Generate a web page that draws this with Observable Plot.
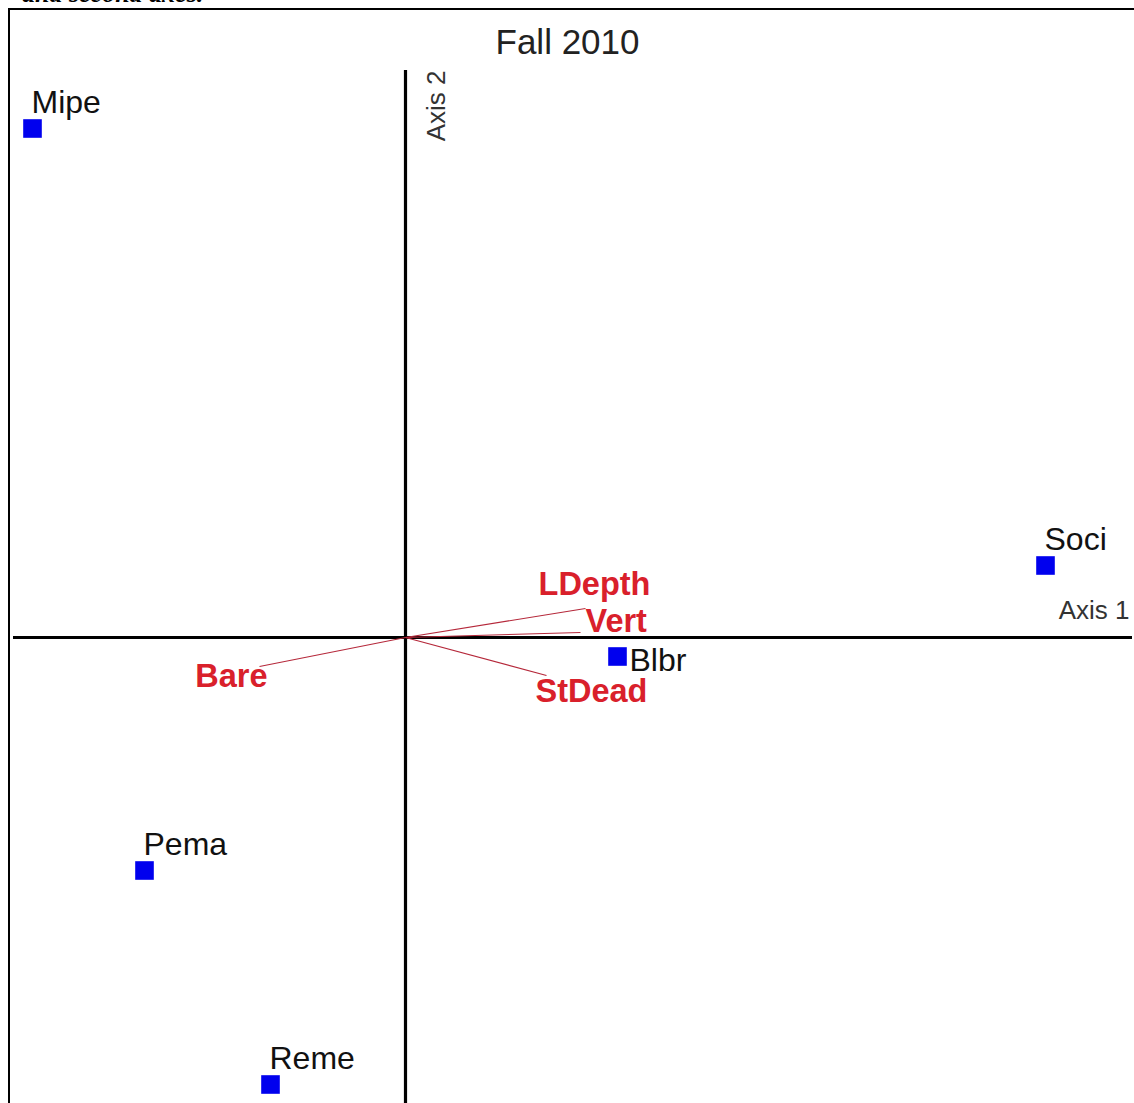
<!DOCTYPE html>
<html>
<head>
<meta charset="utf-8">
<script src="https://cdn.jsdelivr.net/npm/d3@7"></script>
<script src="https://cdn.jsdelivr.net/npm/@observablehq/plot@0.6"></script>
<style>
  html, body { margin: 0; padding: 0; background: #fff; overflow: hidden; width: 1134px; height: 1103px; }
  #caption { position: absolute; left: 22px; top: -19px; font: italic bold 26px "Liberation Serif", "Times New Roman", serif; line-height: 26px; color: #000; white-space: nowrap; }
  #border { position: absolute; left: 8px; top: 8px; width: 2000px; height: 2000px; border: 2px solid #000; }
  #chart { position: absolute; left: 0; top: 0; }
</style>
</head>
<body>
<div id="caption">and second axes.</div>
<div id="border"></div>
<div id="chart"></div>
<script>
// Species scores (axis 1, axis 2)
const speciesNames = ["Mipe", "Soci", "Blbr", "Pema", "Reme"];
const speciesAxis1 = [-3.73, 6.40, 2.12, -2.61, -1.35];
const speciesAxis2 = [5.09, 0.72, -0.19, -2.33, -4.47];

// Environmental vectors (biplot arrows)
const vectorNames = ["LDepth", "Vert", "StDead", "Bare"];
const vectorAxis1 = [1.80, 1.75, 1.41, -1.46];
const vectorAxis2 = [0.29, 0.05, -0.38, -0.29];

// Extent of drawn axes lines
const axis1Extent = [-3.92, 7.27];
const axis2Extent = [-4.66, 5.67];
const title = "Fall 2010";
const axisLabels = ["Axis 1", "Axis 2"];

const species = speciesNames.map((name, i) => ({name, x: speciesAxis1[i], y: speciesAxis2[i]}));
const vectors = vectorNames.map((name, i) => ({name, x: vectorAxis1[i], y: vectorAxis2[i]}));

const RED = "#d9202b";
const labelFont = "Liberation Sans, Arial, Helvetica, sans-serif";

// label placement relative to arrow tips (styling)
const vecLabelStyle = {
  LDepth: {textAnchor: "middle", dx: 9, dy: -24},
  Vert: {textAnchor: "start", dx: 5, dy: -11},
  StDead: {textAnchor: "start", dx: -11, dy: 16},
  Bare: {textAnchor: "end", dx: 8, dy: 10}
};

const plot = Plot.plot({
  width: 1134,
  height: 1103,
  margin: 0,
  x: {domain: [-4.05, 7.29], axis: null},
  y: {domain: [-4.66, 6.37], axis: null},
  style: {background: "transparent", fontFamily: labelFont, overflow: "visible"},
  marks: [
    Plot.ruleX([0], {y1: axis2Extent[0], y2: axis2Extent[1], stroke: "#000", strokeWidth: 3.2}),
    Plot.ruleY([0], {x1: axis1Extent[0], x2: axis1Extent[1], stroke: "#000", strokeWidth: 3.2}),
    Plot.link(vectors, {x1: 0, y1: 0, x2: "x", y2: "y", stroke: "#b5283a", strokeWidth: 1.1}),
    ...vectors.map(v => Plot.text([v], {
      x: "x", y: "y", text: "name", fill: RED, fontWeight: "bold", fontSize: 32.5,
      lineAnchor: "middle", ...vecLabelStyle[v.name]
    })),
    Plot.dot(species, {x: "x", y: "y", symbol: "square", r: 10.5, fill: "#0000ee", stroke: "none"}),
    Plot.text(species.filter(d => d.name !== "Blbr"), {
      x: "x", y: "y", text: "name", textAnchor: "start", lineAnchor: "middle",
      dx: -1, dy: -26, fontSize: 32, fill: "#111"
    }),
    Plot.text(species.filter(d => d.name === "Blbr"), {
      x: "x", y: "y", text: "name", textAnchor: "start", lineAnchor: "middle",
      dx: 12, dy: 4, fontSize: 32, fill: "#111"
    }),
    Plot.text([axisLabels[0]], {
      x: axis1Extent[1], y: 0, text: d => d, textAnchor: "end", lineAnchor: "middle",
      dx: -3, dy: -27, fontSize: 26, fill: "#333"
    }),
    Plot.text([axisLabels[1]], {
      x: 0, y: axis2Extent[1], text: d => d, textAnchor: "end", lineAnchor: "middle",
      rotate: -90, dx: 31, dy: 0, fontSize: 26, fill: "#333"
    }),
    Plot.text([title], {
      frameAnchor: "top", text: d => d, lineAnchor: "middle", dy: 42, fontSize: 35, fill: "#222"
    })
  ]
});
document.getElementById("chart").appendChild(plot);
</script>
</body>
</html>
